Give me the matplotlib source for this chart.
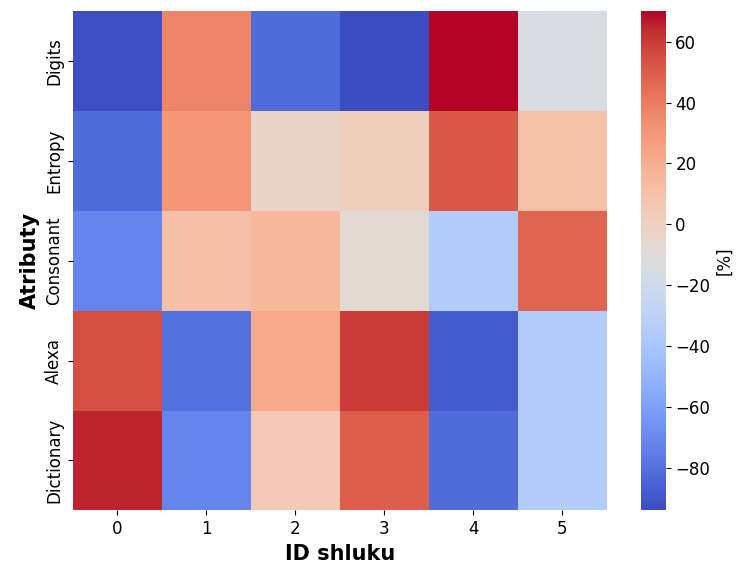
import numpy as np
import matplotlib
matplotlib.use("Agg")
import matplotlib.pyplot as plt
import seaborn as sns

# attributes (rows) and cluster IDs (columns)
attributes = ["Digits", "Entropy", "Consonant", "Alexa", "Dictionary"]
clusters = [0, 1, 2, 3, 4, 5]

digits = [-93, 37, -82, -94, 70, -15]
entropy = [-82, 30, -3, 2, 52, 10]
consonant = [-72, 11, 15, -8, -35, 48]
alexa = [55, -80, 22, 60, -88, -35]
dictionary = [65, -72, 5, 50, -82, -35]

values = np.array([digits, entropy, consonant, alexa, dictionary])

fig = plt.figure(figsize=(7.42, 5.67), dpi=100)
ax = fig.add_axes([0.098, 0.10, 0.72, 0.88])
cax = fig.add_axes([0.864, 0.10, 0.033, 0.88])

sns.heatmap(values, cmap="coolwarm", ax=ax, cbar_ax=cax,
            xticklabels=clusters, yticklabels=attributes,
            cbar_kws={"label": "[%]"})

ax.set_xlabel("ID shluku", fontsize=15, fontweight="bold")
ax.set_ylabel("Atributy", fontsize=15, fontweight="bold")
ax.tick_params(axis="both", labelsize=12)
ax.set_yticklabels(attributes, rotation=90, va="center")
cax.tick_params(labelsize=12)
cax.yaxis.label.set_size(12)

fig.savefig("out.png", dpi=100)
